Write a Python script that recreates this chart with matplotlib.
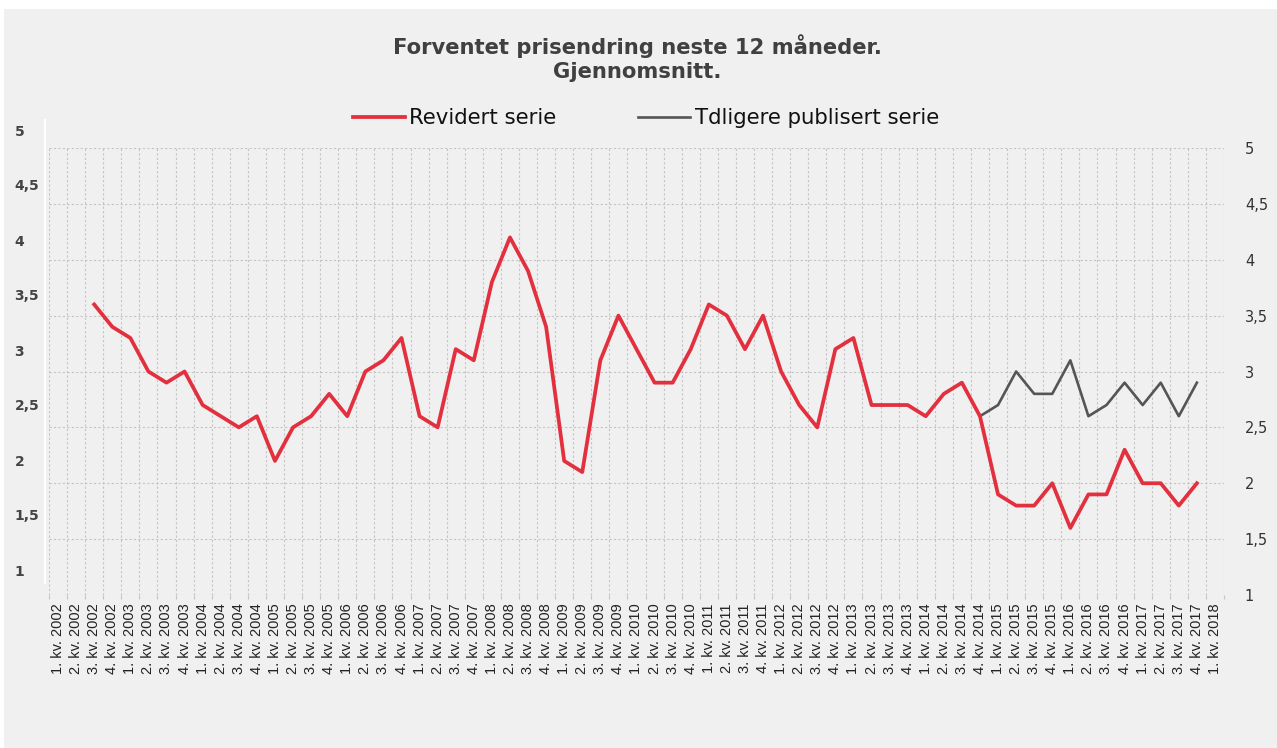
import numpy as np
import matplotlib
matplotlib.use("Agg")
import matplotlib.pyplot as plt
from matplotlib.ticker import FixedLocator

# quarters 1. kv. 2002 .. 1. kv. 2018
years = list(range(2002, 2019))
quarters = [f"{q}. kv. {y}" for y in years for q in range(1, 5)][:65]

nan = np.nan
revidert = [nan, nan,
            3.6, 3.4,
            3.3, 3.0, 2.9, 3.0,
            2.7, 2.6, 2.5, 2.6,
            2.2, 2.5, 2.6, 2.8,
            2.6, 3.0, 3.1, 3.3,
            2.6, 2.5, 3.2, 3.1,
            3.8, 4.2, 3.9, 3.4,
            2.2, 2.1, 3.1, 3.5,
            3.2, 2.9, 2.9, 3.2,
            3.6, 3.5, 3.2, 3.5,
            3.0, 2.7, 2.5, 3.2,
            3.3, 2.7, 2.7, 2.7,
            2.6, 2.8, 2.9, 2.6,
            1.9, 1.8, 1.8, 2.0,
            1.6, 1.9, 1.9, 2.3,
            2.0, 2.0, 1.8, 2.0,
            nan]
tidligere = [nan] * 51 + [2.6,
             2.7, 3.0, 2.8, 2.8,
             3.1, 2.6, 2.7, 2.9,
             2.7, 2.9, 2.6, 2.9,
             nan]

yticks = [1, 1.5, 2, 2.5, 3, 3.5, 4, 4.5, 5]
ytick_labels = [f"{v:g}".replace(".", ",") for v in yticks]

RED = "#e2303e"
GREY = "#555555"
BG = "#f0f0f0"
W, H = 1277, 748

fig = plt.figure(figsize=(W / 100, H / 100), dpi=100, facecolor="white")
# light panel inside a thin white margin
fig.patches.append(plt.Rectangle((4 / W, 0), 1 - 4 / W, 1 - 9 / H,
                                 transform=fig.transFigure, facecolor=BG,
                                 edgecolor="none", zorder=-10))

ax = fig.add_axes([49 / W, 1 - 595 / H, 1175 / W, 447 / H])
ax.set_facecolor(BG)
x = np.arange(len(quarters))
ax.plot(x, tidligere, color=GREY, lw=1.9, label="Tdligere publisert serie", zorder=3)
ax.plot(x, revidert, color=RED, lw=2.7, label="Revidert serie", zorder=4)

ax.set_xlim(-0.5, len(quarters) - 0.5)
ax.set_ylim(1, 5)
ax.set_xticks(x)
ax.set_xticklabels(quarters, rotation=90, fontsize=10.5, color="#222222",
                   family="Liberation Sans")
ax.xaxis.set_minor_locator(FixedLocator(np.arange(-0.5, len(quarters), 1.0)))
ax.tick_params(axis="x", which="major", length=0, pad=6)
ax.tick_params(axis="x", which="minor", length=3, color="#c4c4c4", width=0.8)

ax.yaxis.tick_right()
ax.set_yticks(yticks)
ax.set_yticklabels(ytick_labels, fontsize=10.5, color="#333333")
ax.tick_params(axis="y", length=0, pad=15)
for lab in ax.get_yticklabels():
    lab.set_ha("left")

ax.grid(True, axis="y", color="#c4c4c4", ls=(0, (2, 2)), lw=0.8)
ax.grid(True, axis="x", which="minor", color="#c4c4c4", ls=(0, (2, 2)), lw=0.8)
for s in ax.spines.values():
    s.set_visible(False)

# separate left scale with its own white axis line
lax = fig.add_axes([45 / W, 1 - 583 / H, 0.001, 463 / H])
lax.patch.set_visible(False)
lax.set_ylim(1 - 13 / 110, 5 + 10 / 110)
lax.set_yticks(yticks)
lax.set_yticklabels(ytick_labels, fontsize=10, fontweight="bold", color="#444444")
lax.tick_params(axis="y", length=0, pad=22)
for lab in lax.get_yticklabels():
    lab.set_ha("left")
lax.set_xticks([])
for k in ("top", "right", "bottom"):
    lax.spines[k].set_visible(False)
lax.spines["left"].set_color("white")
lax.spines["left"].set_linewidth(1.5)

fig.text(637 / W, 1 - 58 / H, "Forventet prisendring neste 12 måneder.\nGjennomsnitt.",
         ha="center", va="center", fontsize=15.2, fontweight="bold", color="#404040",
         linespacing=1.2)

h, l = ax.get_legend_handles_labels()
fig.legend(h[::-1], l[::-1], loc="center", bbox_to_anchor=(646 / W, 1 - 118 / H),
           ncol=2, frameon=False, fontsize=15.3, handlelength=2.45, handletextpad=0.2,
           columnspacing=3.85, borderpad=0, labelcolor="#111111")

fig.savefig("out.png", dpi=100, facecolor=fig.get_facecolor())
